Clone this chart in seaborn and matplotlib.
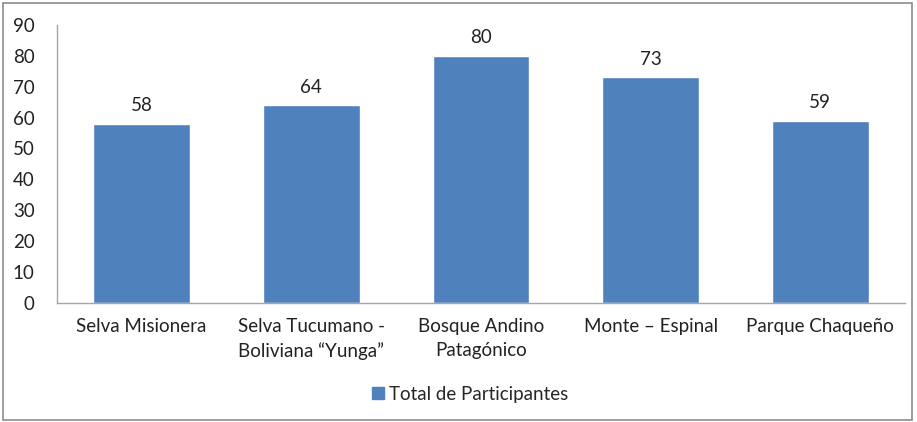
import matplotlib
matplotlib.use("Agg")
import matplotlib.pyplot as plt
import seaborn as sns
import pandas as pd
from matplotlib.patches import Rectangle

categories = ["Selva Misionera", "Selva Tucumano -\nBoliviana \u201cYunga\u201d",
              "Bosque Andino\nPatagónico", "Monte \u2013 Espinal", "Parque Chaqueño"]
values = [58, 64, 80, 73, 59]
series_name = "Total de Participantes"
yticks = list(range(0, 100, 10))

sns.set_theme(style="white")
plt.rcParams['font.family'] = ['Lato', 'DejaVu Sans']

df = pd.DataFrame({"cat": categories, "val": values, "series": series_name})

fig = plt.figure(figsize=(9.17, 4.22), dpi=100)
ax = fig.add_axes([0.062, 0.282, 0.925, 0.659])
color = "#4F81BD"
sns.barplot(data=df, x="cat", y="val", hue="series", palette=[color],
            width=0.57, ax=ax, legend=False, saturation=1)

fs = 13.5
ax.set_xlim(-0.5, 4.5)
ax.set_ylim(0, 90)
ax.set_yticks(yticks)
ax.set_xlabel("")
ax.set_ylabel("")
for s in ["top", "right"]:
    ax.spines[s].set_visible(False)
for s in ["left", "bottom"]:
    ax.spines[s].set_color("#A6A6A6")
    ax.spines[s].set_linewidth(1.0)
ax.tick_params(axis="both", length=0, labelsize=fs, colors="#222222")
ax.tick_params(axis="y", pad=16)
ax.tick_params(axis="x", pad=11)
for lbl in ax.get_xticklabels():
    lbl.set_linespacing(1.45)

for cont in ax.containers:
    ax.bar_label(cont, padding=7, fontsize=fs, color="#222222")

handle = Rectangle((0, 0), 1, 1, color=color)
fig.legend([handle], [series_name], loc="center", bbox_to_anchor=(0.513, 0.066),
           frameon=False, fontsize=fs, handlelength=0.6, handleheight=0.6,
           handletextpad=0.3)

fig.patches.append(Rectangle((0.003, 0.004), 0.992, 0.99, transform=fig.transFigure,
                             fill=False, edgecolor="#8C8C8C", linewidth=1.2))

fig.savefig("out.png", dpi=100)
